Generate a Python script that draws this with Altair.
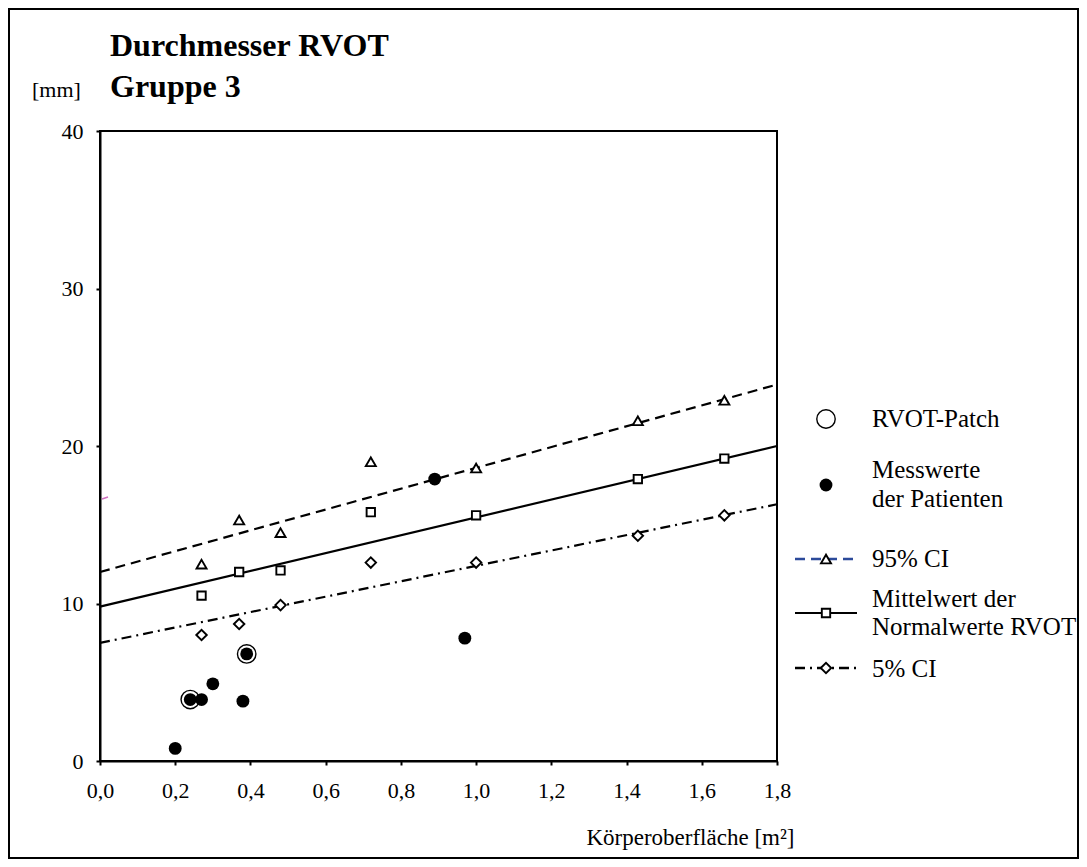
import altair as alt
import pandas as pd

# ---- data ----
x_norm = [0.27, 0.37, 0.48, 0.72, 1.00, 1.43, 1.66]
ci95_pts = [12.5, 15.3, 14.5, 19.0, 18.6, 21.6, 22.9]
mean_pts = [10.5, 12.0, 12.1, 15.8, 15.6, 17.9, 19.2]
ci5_pts = [8.0, 8.7, 9.9, 12.6, 12.6, 14.3, 15.6]

patients_x = [0.20, 0.24, 0.27, 0.30, 0.38, 0.39, 0.89, 0.97]
patients_y = [0.8, 3.9, 3.9, 4.9, 3.8, 6.8, 17.9, 7.8]

patch_x = [0.24, 0.39]
patch_y = [3.9, 6.8]

line_x = [0.0, 1.8]
ci95_line = [12.0, 23.9]
mean_line = [9.8, 20.0]
ci5_line = [7.5, 16.3]

x_ticks = [0.0, 0.2, 0.4, 0.6, 0.8, 1.0, 1.2, 1.4, 1.6, 1.8]
y_ticks = [0, 10, 20, 30, 40]

title_lines = ["Durchmesser RVOT", "Gruppe 3"]
y_unit = "[mm]"
x_title = "Körperoberfläche [m²]"
legend_labels = ["RVOT-Patch", "Messwerte", "der Patienten", "95% CI",
                 "Mittelwert der", "Normalwerte RVOT", "5% CI"]

FONT = "Liberation Serif"
W, H = 677, 630
BLUE = "#2c4a9a"

# ---- tables ----
norm_df = pd.DataFrame({"x": x_norm, "ci95": ci95_pts, "mean": mean_pts, "ci5": ci5_pts})
pat_df = pd.DataFrame({"x": patients_x, "y": patients_y})
patch_df = pd.DataFrame({"x": patch_x, "y": patch_y})
line_df = pd.DataFrame({"x": line_x, "ci95": ci95_line, "mean": mean_line, "ci5": ci5_line})
one = pd.DataFrame({"d": [0]})

xs = alt.Scale(domain=[0, 1.8], nice=False, zero=False)
ys = alt.Scale(domain=[0, 40], nice=False)

x_axis = alt.Axis(values=x_ticks, grid=False, labelFlush=False,
                  labelExpr="replace(format(datum.value, '.1f'), '.', ',')",
                  title=x_title, titleFont=FONT, titleFontSize=23, titleFontWeight="normal",
                  titleColor="black", titleAnchor="end", titleAlign="right",
                  titleBaseline="alphabetic", titleX=694, titleY=83,
                  labelPadding=15)
y_axis = alt.Axis(values=y_ticks, grid=False, title=None, labelPadding=13, labelFlush=False)

X = alt.X("x:Q", scale=xs, axis=x_axis)


def Y(field):
    return alt.Y(f"{field}:Q", scale=ys, axis=y_axis)


# fit lines
l95 = alt.Chart(line_df).mark_line(color="black", strokeWidth=2.2, strokeDash=[10, 6]).encode(x=X, y=Y("ci95"))
lmean = alt.Chart(line_df).mark_line(color="black", strokeWidth=2.2).encode(x=X, y=Y("mean"))
l5 = alt.Chart(line_df).mark_line(color="black", strokeWidth=2.2, strokeDash=[10, 5, 2, 5]).encode(x=X, y=Y("ci5"))

sym = dict(filled=False, color="black", strokeWidth=1.9, fill="white", fillOpacity=1, opacity=1)
p95 = alt.Chart(norm_df).mark_point(shape="triangle-up", size=100, **sym).encode(x=X, y=Y("ci95"))
pmean = alt.Chart(norm_df).mark_point(shape="square", size=70, **sym).encode(x=X, y=Y("mean"))
p5 = alt.Chart(norm_df).mark_point(shape="diamond", size=110, **sym).encode(x=X, y=Y("ci5"))

ring = alt.Chart(patch_df).mark_point(shape="circle", size=340, filled=False, color="black",
                                      strokeWidth=1.4, opacity=1).encode(x=X, y=Y("y"))
pts = alt.Chart(pat_df).mark_circle(size=165, color="black", opacity=1).encode(x=X, y=Y("y"))

# ---- decorations (title, unit, legend, outer frame) ----
def txt(t, x, y, size=25, weight="normal", align="left"):
    return alt.Chart(one).mark_text(text=t, font=FONT, fontSize=size, fontWeight=weight,
                                    align=align, baseline="alphabetic", color="black").encode(
        x=alt.value(x), y=alt.value(y))

deco = [
    txt(title_lines[0], 10, -75, 32, "bold"),
    txt(title_lines[1], 10, -34, 32, "bold"),
    txt(y_unit, -68, -34, 22),
    alt.Chart(one).mark_rule(color="#d070c0", strokeWidth=1.5).encode(
        x=alt.value(2), x2=alt.value(8), y=alt.value(368), y2=alt.value(366)),
]

LX0, LX1, LXS, LTX = 695, 757, 726, 772
deco += [
    alt.Chart(one).mark_point(shape="circle", size=340, filled=False, color="black",
                              strokeWidth=1.4, opacity=1).encode(x=alt.value(LXS), y=alt.value(288)),
    txt(legend_labels[0], LTX, 296),
    alt.Chart(one).mark_circle(size=165, color="black", opacity=1).encode(x=alt.value(LXS), y=alt.value(354)),
    txt(legend_labels[1], LTX, 347),
    txt(legend_labels[2], LTX, 376),
    alt.Chart(one).mark_rule(color=BLUE, strokeWidth=2.5, strokeDash=[10, 6]).encode(
        x=alt.value(LX0), x2=alt.value(LX1), y=alt.value(428)),
    alt.Chart(one).mark_point(shape="triangle-up", size=100, **sym).encode(x=alt.value(LXS), y=alt.value(428)),
    txt(legend_labels[3], LTX, 436),
    alt.Chart(one).mark_rule(color="black", strokeWidth=2.2).encode(
        x=alt.value(LX0), x2=alt.value(LX1), y=alt.value(482)),
    alt.Chart(one).mark_point(shape="square", size=70, **sym).encode(x=alt.value(LXS), y=alt.value(482)),
    txt(legend_labels[4], LTX, 476),
    txt(legend_labels[5], LTX, 504),
    alt.Chart(one).mark_rule(color="black", strokeWidth=2.5, strokeDash=[10, 5, 2, 5]).encode(
        x=alt.value(LX0), x2=alt.value(LX1), y=alt.value(537)),
    alt.Chart(one).mark_point(shape="diamond", size=110, **sym).encode(x=alt.value(LXS), y=alt.value(537)),
    txt(legend_labels[6], LTX, 546),
    alt.Chart(one).mark_rect(fillOpacity=0, stroke="black", strokeWidth=2).encode(
        x=alt.value(-91), x2=alt.value(978), y=alt.value(-122), y2=alt.value(727)),
]

chart = alt.layer(l95, lmean, l5, p95, pmean, p5, pts, ring, *deco).properties(
    width=W, height=H,
    autosize=alt.AutoSizeParams(type="none"),
    padding={"left": 92, "top": 123, "right": 302, "bottom": 98},
    background="white",
).configure_view(
    stroke="black", strokeWidth=2
).configure_axis(
    domainColor="black", domainWidth=2, tickColor="black", tickWidth=2, tickSize=4,
    labelFont=FONT, labelFontSize=22, labelColor="black",
)

chart.save("out.html", embed_options={"renderer": "svg", "actions": False})
